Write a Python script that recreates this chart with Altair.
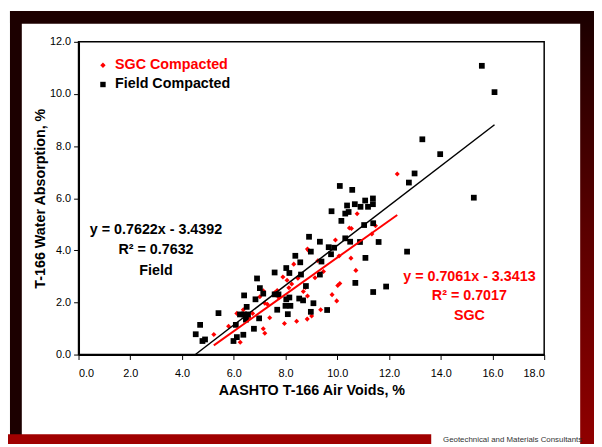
import altair as alt
import pandas as pd

# ---------------- data ----------------
series_names = ["SGC Compacted", "Field Compacted"]
series_colors = ["#ff0000", "#000000"]
series_shapes = ["diamond", "square"]

field_x = [4.53, 4.70, 4.79, 4.89, 5.41, 5.99, 6.12, 6.08, 6.37, 6.24, 6.40, 6.55, 6.47, 6.50,
           6.40, 6.78, 6.84, 6.90, 6.98, 7.01, 7.14, 7.58, 7.58, 7.73, 7.68, 8.03, 8.15, 8.03,
           8.15, 8.00, 8.19, 8.09, 8.38, 8.57, 8.60, 8.53, 8.68, 8.79, 8.98, 9.08, 8.98, 9.61,
           9.33, 9.39, 9.76, 9.67, 9.88, 8.91, 9.33, 10.31, 10.50, 10.88, 11.60, 11.09, 10.70,
           11.39, 11.89, 12.70, 9.78, 10.16, 10.31, 10.44, 11.04, 11.39, 10.38, 10.68, 10.90,
           11.19, 11.08, 11.38, 11.38, 10.10, 10.58, 12.77, 12.99, 13.29, 13.98, 15.28, 15.59,
           16.08]
field_y = [0.78, 1.14, 0.52, 0.58, 1.59, 0.52, 0.67, 1.14, 0.76, 1.54, 1.54, 1.54, 1.34, 1.83,
           2.27, 0.99, 2.12, 2.92, 1.39, 2.55, 2.34, 3.15, 2.31, 2.31, 1.72, 3.32, 3.13, 2.12,
           2.19, 1.87, 1.87, 1.55, 3.79, 3.54, 3.07, 2.15, 2.08, 2.63, 3.95, 1.97, 1.64, 1.71,
           3.07, 3.57, 3.85, 4.12, 4.10, 4.52, 4.33, 4.46, 4.33, 4.32, 4.32, 3.71, 2.75,
           2.40, 2.61, 3.95, 5.50, 5.13, 5.41, 5.47, 4.97, 5.04, 5.72, 5.77, 5.67,
           5.67, 5.91, 5.99, 5.77, 6.47, 6.32, 6.60, 6.95, 8.26, 7.69, 6.02, 11.08,
           10.07]

sgc_x = [5.23, 5.80, 6.25, 6.12, 6.37, 6.59, 6.73, 7.01, 7.14, 7.20, 7.14, 7.20, 7.30, 7.39,
         7.58, 7.68, 7.75, 7.90, 7.96, 8.06, 8.13, 8.24, 8.32, 8.43, 8.69, 8.77, 8.85, 8.89,
         8.48, 8.85, 9.14, 9.47, 9.25, 9.93, 10.47, 10.55, 10.77, 11.34, 11.48, 12.32, 10.07,
         10.53, 10.72, 10.10, 10.02, 9.80, 9.98, 9.36, 9.01, 8.84]
sgc_y = [0.77, 1.09, 0.47, 1.58, 1.72, 1.41, 1.58, 2.22, 2.45, 1.97, 0.99, 0.82, 1.93, 1.41,
         2.37, 2.46, 2.18, 2.98, 1.19, 2.85, 2.56, 2.71, 3.47, 1.28, 2.42, 2.57, 4.05, 3.99,
         2.93, 2.25, 2.95, 3.19, 3.60, 4.40, 4.86, 4.84, 5.40, 4.63, 4.94, 6.93, 3.78,
         3.70, 3.23, 2.73, 2.65, 2.30, 2.06, 1.72, 1.48, 1.36]

fit_slope = [0.7061, 0.7622]
fit_intercept = [-3.3413, -3.4392]
eq_labels_sgc = ["y = 0.7061x - 3.3413", "R\u00b2 = 0.7017", "SGC"]
eq_labels_field = ["y = 0.7622x - 3.4392", "R\u00b2 = 0.7632", "Field"]

x_ticks = [0, 2, 4, 6, 8, 10, 12, 14, 16, 18]
y_ticks = [0, 2, 4, 6, 8, 10, 12]
x_title = "AASHTO T-166 Air Voids, %"
y_title = "T-166 Water Absorption, %"
logo_text = ["Geotechnical and Materials Consultants"]

# ---------------- layout ----------------
FONT = "Liberation Sans"
W, H = 472, 317
PAD_L, PAD_T = 71.5, 31.3
PAD_R, PAD_B = 50.5, 90.7

sgc_df = pd.DataFrame({"x": sgc_x, "y": sgc_y, "series": series_names[0]})
field_df = pd.DataFrame({"x": field_x, "y": field_y, "series": series_names[1]})


def fit_df(xs, i):
    lo, hi = min(xs), max(xs)
    return pd.DataFrame({"x": [lo, hi],
                         "y": [fit_slope[i] * lo + fit_intercept[i], fit_slope[i] * hi + fit_intercept[i]]})


x_enc = alt.X("x:Q", scale=alt.Scale(domain=[0, 18], nice=False, zero=False),
              axis=alt.Axis(values=x_ticks, format=".1f", title=x_title, grid=False,
                            tickSize=5, labelPadding=14, labelBaseline="middle",
                            titleX=W / 2, titleY=36, titleBaseline="middle"))
y_enc = alt.Y("y:Q", scale=alt.Scale(domain=[0, 12], nice=False, zero=False),
              axis=alt.Axis(values=y_ticks, format=".1f", title=y_title, grid=False,
                            tickSize=5, labelPadding=3,
                            titleX=-38, titleY=H / 2, titleAngle=270, titleBaseline="middle",
                            titleAlign="center"))

legend = alt.Legend(title=None, orient="none", legendX=17.5, legendY=16.5, padding=0,
                    labelFont=FONT, labelFontSize=14.5, labelFontWeight="bold",
                    labelColor=alt.ExprRef("datum.label == 'SGC Compacted' ? '#ff0000' : '#000000'"),
                    symbolSize=30, labelOffset=5, rowPadding=4.5, symbolStrokeWidth=0)
color_enc = alt.Color("series:N", scale=alt.Scale(domain=series_names, range=series_colors), legend=legend)
shape_enc = alt.Shape("series:N", scale=alt.Scale(domain=series_names, range=series_shapes), legend=legend)

sgc_pts = alt.Chart(sgc_df).mark_point(filled=True, opacity=1, size=26).encode(
    x=x_enc, y=y_enc, color=color_enc, shape=shape_enc)
field_pts = alt.Chart(field_df).mark_point(filled=True, opacity=1, size=34).encode(
    x="x:Q", y="y:Q", color=color_enc, shape=shape_enc)

sgc_line = alt.Chart(fit_df(sgc_x, 0)).mark_line(color="#ff0000", strokeWidth=2).encode(x="x:Q", y="y:Q")
field_line = alt.Chart(fit_df(field_x, 1)).mark_line(color="#000000", strokeWidth=1.5).encode(x="x:Q", y="y:Q")


def text_layer(label, px, py, color, size=14.5, weight="bold"):
    return alt.Chart(pd.DataFrame({"t": [label]})).mark_text(
        font=FONT, fontSize=size, fontWeight=weight, color=color, align="center", baseline="middle"
    ).encode(text="t:N", x=alt.value(px), y=alt.value(py))


texts = []
for k, lab in enumerate(eq_labels_field):
    texts.append(text_layer(lab, 78.5, 191 + 20.5 * k, "#000000"))
for k, lab in enumerate(eq_labels_sgc):
    texts.append(text_layer(lab, 396.2, 238 + 20 * k, "#ff0000"))


def band(x0, x1, y0, y1, color):
    return alt.Chart(pd.DataFrame({"b": [0]})).mark_rect(color=color).encode(
        x=alt.value(x0), x2=alt.value(x1), y=alt.value(y0), y2=alt.value(y1))


grad = alt.LinearGradient(gradient="linear", x1=0, x2=0, y1=0, y2=1,
                          stops=[alt.GradientStop(color="#1a0000", offset=0),
                                 alt.GradientStop(color="#5a0000", offset=0.5),
                                 alt.GradientStop(color="#900000", offset=1)])
right_band = alt.Chart(pd.DataFrame({"b": [0]})).mark_rect(color=grad).encode(
    x=alt.value(W + 36.5), x2=alt.value(W + 50.5), y=alt.value(-31.3), y2=alt.value(H + 90.7))

bands = [
    band(-69.5, W + 50.5, -31.3, -18.3, "#1c0000"),
    band(-69.5, -57.5, -31.3, H + 90.7, "#1c0000"),
    right_band,
    band(-71.5, 357.5, H + 80.7, H + 90.7, "#a00000"),
    alt.Chart(pd.DataFrame({"t": logo_text})).mark_text(
        font=FONT, fontSize=8, color="#333333", align="center", baseline="middle"
    ).encode(text="t:N", x=alt.value(440), y=alt.value(H + 86.5)),
]

chart = alt.layer(sgc_pts, field_pts, sgc_line, field_line, *texts, *bands).properties(
    width=W, height=H,
    padding={"left": PAD_L, "top": PAD_T, "right": PAD_R, "bottom": PAD_B},
    autosize=alt.AutoSizeParams(type="none"),
    background="white",
).configure_view(stroke="#000000", strokeWidth=1.5).configure_axis(
    labelFont=FONT, labelFontSize=11, labelColor="#000000",
    titleFont=FONT, titleFontSize=14.5, titleFontWeight="bold", titleColor="#000000",
    domainColor="#000000", domainWidth=2, tickColor="#000000", tickWidth=1,
)

chart.save("out.html", embed_options={"renderer": "svg", "actions": False})
